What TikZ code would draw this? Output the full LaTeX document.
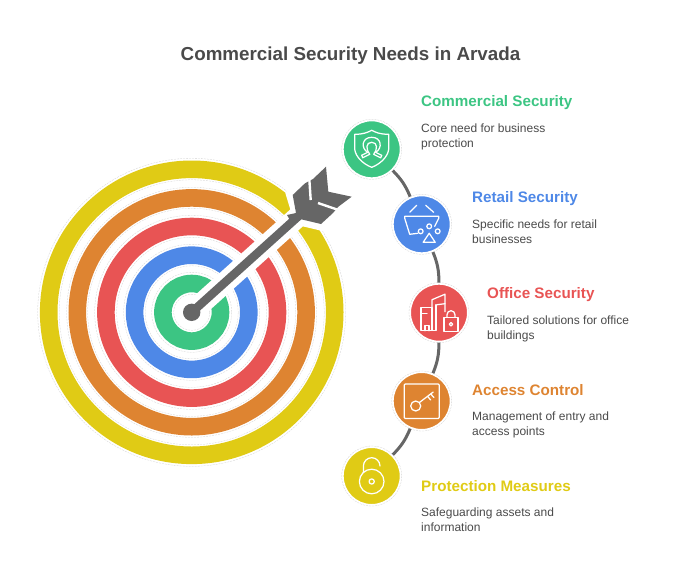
\documentclass[tikz,border=0pt]{standalone}
\usepackage{fontspec}
\setmainfont{Liberation Sans}
\definecolor{cgreen}{HTML}{3CC583}
\definecolor{cblue}{HTML}{4E88E7}
\definecolor{cred}{HTML}{E85454}
\definecolor{corange}{HTML}{DE8431}
\definecolor{cyellow}{HTML}{E0CB15}
\definecolor{cgray}{HTML}{666666}
\definecolor{ctext}{HTML}{4A4A4A}
\tikzset{
  ring/.style={line width=17.6pt},
  hair/.style={draw=gray!35, line width=0.3pt, dash pattern=on 2pt off 1pt},
  disc/.style={circle, minimum size=58pt, inner sep=0pt, draw=white, line width=2pt},
  link/.style={draw=cgray, line width=3pt},
  icon/.style={draw=white, line width=1.25pt, line join=round, line cap=round},
  head/.style={anchor=west, inner sep=0pt, font=\bfseries\fontsize{15.2}{18}\selectfont},
  body/.style={anchor=north west, inner sep=0pt, align=left, text=ctext, font=\fontsize{12}{15}\selectfont}
}
\begin{document}
\begin{tikzpicture}[x=1pt,y=-1pt]
\useasboundingbox (0,0) rectangle (700,571);

\node[anchor=center, inner sep=0pt, text=ctext, font=\bfseries\fontsize{18.8}{22}\selectfont] (title) at (350.5,55.5) {Commercial Security Needs in Arvada};

% target
\coordinate (target) at (191.7,312.3);
\draw[ring, cyellow] (target) circle (143);
\draw[ring, corange] (target) circle (114.4);
\draw[ring, cred] (target) circle (85.8);
\draw[ring, cblue] (target) circle (57.1);
\draw[ring, cgreen] (target) circle (28.8);
\foreach \r in {18,40,46.5,68,75,97,104,125,132.5,154}
  \draw[hair] (target) circle (\r);

% arrow
\coordinate (shaftend) at (300,214.8);
\draw[white, line width=21pt] (target) -- (shaftend);
\path[draw=white, fill=white, line width=13pt, line join=miter]
  (292.7,195) -- (305,183.3) -- (326,166.7) -- (328.3,191.7) -- (351.7,196.7) -- (338.3,206.7) -- (321,224) -- (300,219) -- cycle;
\draw[cgray, line width=8.5pt] (target) -- (shaftend);
\fill[cgray] (target) circle (8.7);
\fill[cgray] (292.7,195) -- (305,183.3) -- (313,179) -- (326,166.7) -- (328.3,191.7) -- (351.7,196.7) -- (338.3,206.7)
  -- (333,213) -- (321,224) -- (300,219) -- (291,222) -- (287,215) -- (296,213) -- cycle;
\draw[white, line width=2.4pt] (309.3,179) -- (310.7,200);
\draw[white, line width=2.4pt] (318,203) -- (337,209.5);

% discs
\node[disc, fill=cgreen] (commercial) at (371.7,149.3) {};
\node[disc, fill=cblue] (retail) at (421.7,224.3) {};
\node[disc, fill=cred] (office) at (439,312.7) {};
\node[disc, fill=corange] (access) at (421.7,401) {};
\node[disc, fill=cyellow] (protection) at (371.7,476) {};
\draw[hair] (commercial) circle (30);
\draw[hair] (retail) circle (30);
\draw[hair] (office) circle (30);
\draw[hair] (access) circle (30);
\draw[hair] (protection) circle (30);

\draw[link] (commercial) to[bend left=11] (retail);
\draw[link] (retail) to[bend left=11] (office);
\draw[link] (office) to[bend left=11] (access);
\draw[link] (access) to[bend left=11] (protection);

% shield
\begin{scope}[shift={(commercial)}, icon]
  \draw (-17,-15) .. controls (-8,-15) and (-4,-17) .. (0,-19) .. controls (4,-17) and (8,-15) .. (17,-15)
    -- (17,0) .. controls (16,8) and (8,15) .. (0,18) .. controls (-8,15) and (-16,8) .. (-17,0) -- cycle;
  \draw (-10,6) -- (-4,3) .. controls (-11,-1) and (-10,-12) .. (0,-12) .. controls (10,-12) and (11,-1) .. (4,3) -- (10,6);
  \draw (-10,6) -- (-9,8.5) -- (-2,5) .. controls (-6,0) and (-6,-7) .. (0,-7) .. controls (6,-7) and (6,0) .. (2,5) -- (9,8.5) -- (10,6);
\end{scope}

% basket
\begin{scope}[shift={(retail)}, icon]
  \draw (-4,9) -- (-12,10) -- (-17,-6) -- (-17,-8) -- (17,-8) -- (17,-6) -- (13,2);
  \draw (-12,-12) -- (-5,-19);
  \draw (12,-12) -- (4,-19);
  \draw (-1,7) circle (2.4);
  \draw (7.5,2) circle (2.4);
  \draw (16,7) circle (2.4);
  \draw (7.5,9) -- (1.5,18) -- (13.5,18) -- cycle;
\end{scope}

% buildings and padlock
\begin{scope}[shift={(office)}, icon]
  \draw (-18,18) -- (-18,-5) -- (-7,-5) -- (-7,18) -- cycle;
  \draw (-18,1) -- (-12,1);
  \draw (-14,18) -- (-14,13) -- (-10,13) -- (-10,18);
  \draw (-7,-5) -- (-7,-13) -- (6,-18.5) -- (6,-1);
  \draw (-3,-8) -- (-3,18) -- (-7,18);
  \draw (-2,-8) -- (6,-9);
  \draw (5,18.5) -- (5,4.5) -- (19,4.5) -- (19,18.5) -- cycle;
  \draw (8,4.5) -- (8,2) arc (180:360:4) -- (16,4.5);
  \draw (12,11.5) circle (1.7);
\end{scope}

% key
\begin{scope}[shift={(access)}, icon]
  \draw[rounded corners=1pt] (-17.5,-17) rectangle (17.5,17.5);
  \draw (-6,5) circle (5);
  \draw (-2.3,1.5) -- (11.5,-9);
  \draw (6,-4.5) -- (9,-1);
  \draw (9,-7) -- (12.3,-3.5);
\end{scope}

% open lock
\begin{scope}[shift={(protection)}, icon]
  \draw (0,5.5) circle (12.3);
  \draw (0,5.5) circle (2.6);
  \draw (-8.3,-3.5) -- (-8.3,-10) arc (180:360:8.3);
\end{scope}

% labels
\node[head, text=cgreen] (commercialhead) at (421,102.5) {Commercial Security};
\node[body] (commercialbody) at (421,123.5) {Core need for business\\protection};
\node[head, text=cblue] (retailhead) at (472,198.5) {Retail Security};
\node[body] (retailbody) at (472,219.5) {Specific needs for retail\\businesses};
\node[head, text=cred] (officehead) at (487,294.5) {Office Security};
\node[body] (officebody) at (487,315.5) {Tailored solutions for office\\buildings};
\node[head, text=corange] (accesshead) at (472,390.5) {Access Control};
\node[body] (accessbody) at (472,411.5) {Management of entry and\\access points};
\node[head, text=cyellow] (protectionhead) at (421,486.5) {Protection Measures};
\node[body] (protectionbody) at (421,507.5) {Safeguarding assets and\\information};
\end{tikzpicture}
\end{document}
